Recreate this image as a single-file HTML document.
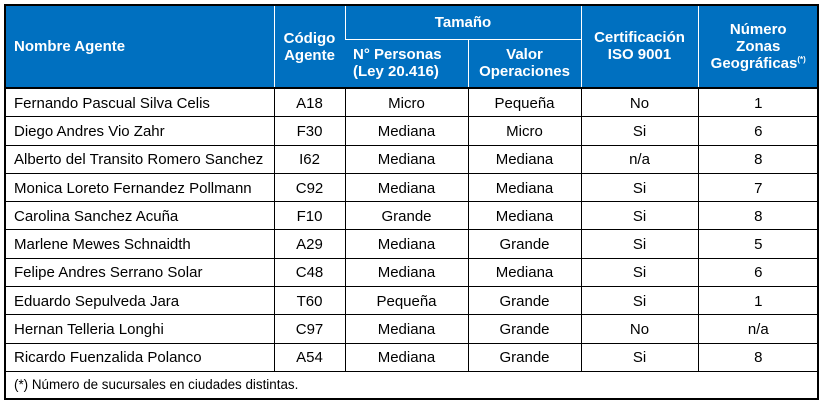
<!DOCTYPE html>
<html><head><meta charset="utf-8"><style>
body{margin:0;width:821px;height:405px;background:#fff;font-family:"Liberation Sans",Arial,sans-serif;}
.wrap{position:absolute;left:4px;top:4px;width:811px;height:392px;border:2px solid #000;overflow:hidden;}
table{position:absolute;left:0;top:0;border-collapse:collapse;table-layout:fixed;width:812px;}
td,th{font-size:15px;padding:0;}
th{background:#0070C0;color:#fff;font-weight:bold;border-left:1px solid #fff;line-height:17px;}
th:first-child{border-left:none;text-align:left;padding-left:8px;}
td{border:1px solid #000;height:25.3px;padding-top:2px;line-height:16px;text-align:center;color:#000;}
td:first-child{text-align:left;padding-left:8px;border-left:none;}
td:last-child{border-right:none;}
tr.first td{border-top:2px solid #000;}
.foot td{text-align:left;padding-left:8px;font-size:13.4px;height:23px;border-bottom:none;}
sup{font-size:8px;line-height:0;vertical-align:6px;}
</style></head><body>
<div class="wrap">
<table>
<colgroup><col style="width:268px"><col style="width:71px"><col style="width:123px"><col style="width:113px"><col style="width:117px"><col style="width:120px"></colgroup>
<tr style="height:33px"><th rowspan="2">Nombre Agente</th><th rowspan="2">Código<br>Agente</th><th colspan="2" style="border-bottom:1px solid #fff;vertical-align:middle">Tamaño</th><th rowspan="2" style="vertical-align:top;padding-top:23px">Certificación<br>ISO 9001</th><th rowspan="2">Número<br>Zonas<br>Geográficas<sup>(*)</sup></th></tr>
<tr style="height:49px"><th>N° Personas<br>(Ley 20.416)</th><th>Valor<br>Operaciones</th></tr>
<tr class="first"><td>Fernando Pascual Silva Celis</td><td>A18</td><td>Micro</td><td>Pequeña</td><td>No</td><td>1</td></tr>
<tr><td>Diego Andres Vio Zahr</td><td>F30</td><td>Mediana</td><td>Micro</td><td>Si</td><td>6</td></tr>
<tr><td>Alberto del Transito Romero Sanchez</td><td>I62</td><td>Mediana</td><td>Mediana</td><td>n/a</td><td>8</td></tr>
<tr><td>Monica Loreto Fernandez Pollmann</td><td>C92</td><td>Mediana</td><td>Mediana</td><td>Si</td><td>7</td></tr>
<tr><td>Carolina Sanchez Acuña</td><td>F10</td><td>Grande</td><td>Mediana</td><td>Si</td><td>8</td></tr>
<tr><td>Marlene Mewes Schnaidth</td><td>A29</td><td>Mediana</td><td>Grande</td><td>Si</td><td>5</td></tr>
<tr><td>Felipe Andres Serrano Solar</td><td>C48</td><td>Mediana</td><td>Mediana</td><td>Si</td><td>6</td></tr>
<tr><td>Eduardo Sepulveda Jara</td><td>T60</td><td>Pequeña</td><td>Grande</td><td>Si</td><td>1</td></tr>
<tr><td>Hernan Telleria Longhi</td><td>C97</td><td>Mediana</td><td>Grande</td><td>No</td><td>n/a</td></tr>
<tr><td>Ricardo Fuenzalida Polanco</td><td>A54</td><td>Mediana</td><td>Grande</td><td>Si</td><td>8</td></tr>
<tr class="foot"><td colspan="6">(*) Número de sucursales en ciudades distintas.</td></tr>
</table>
</div>
</body></html>
